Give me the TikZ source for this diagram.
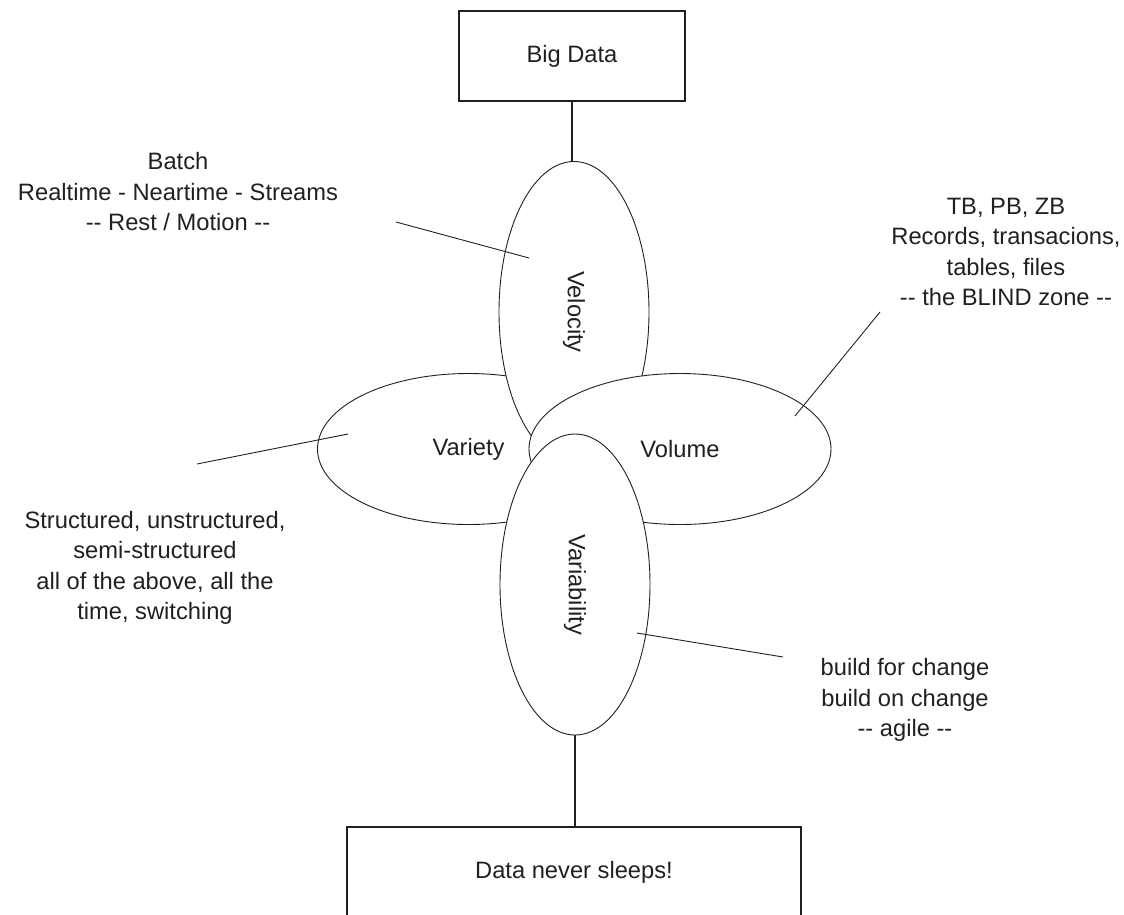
\documentclass[tikz,border=0pt]{standalone}
\usepackage{fontspec}
% plain family: no TeX ligatures, so "--" stays two hyphens
\newfontfamily\notefont{Liberation Sans}
\usetikzlibrary{shapes.geometric}
\definecolor{ink}{HTML}{231F20}
\begin{document}
\begin{tikzpicture}[x=1pt,y=-1pt,
  every node/.style={font=\notefont\fontsize{23.7}{30.5}\selectfont, text=ink},
  labelbox/.style={draw=ink, line width=2pt, minimum height=90pt, inner sep=0pt},
  petal/.style={ellipse, draw=ink, fill=white, line width=0.9pt, inner sep=0pt},
  tallpetal/.style={petal, minimum width=150pt, minimum height=301pt},
  widepetal/.style={petal, minimum width=302pt, minimum height=151pt},
  stem/.style={draw=ink, line width=2pt},
  pointer/.style={draw=ink, line width=0.9pt},
  note/.style={align=center, inner sep=0pt}
]
\useasboundingbox (0,0) rectangle (1124,914);
\clip (0,0) rectangle (1124,914);

% top and bottom boxes
\node[labelbox, minimum width=226pt] (bigdata) at (572,56) {Big Data};
\node[labelbox, minimum width=454pt] (sleeps) at (574,872) {Data never sleeps!};

% the four V petals, stacked in drawing order
\node[widepetal] (variety) at (468.5,449) {Variety};
\node[tallpetal] (velocity) at (574,312) {\rotatebox{-90}{Velocity}};
\node[widepetal] (volume) at (680,449) {Volume};
\node[tallpetal] (variability) at (575,584.5) {\rotatebox{-90}{Variability}};

% stems
\draw[stem] (bigdata.south) -- (bigdata.south |- velocity.north);
\draw[stem] (variability.south) -- (variability.south |- sleeps.north);

% notes
\node[note] (velnote) at (178,192) {Batch\\Realtime - Neartime - Streams\\-- Rest / Motion --};
\node[note] (volnote) at (1006,252) {TB, PB, ZB\\Records, transacions,\\tables, files\\-- the BLIND zone --};
\node[note] (varnote) at (155,568) {Structured, unstructured,\\semi-structured\\all of the above, all the\\time, switching};
\node[note] (vbnote) at (905,700) {build for change\\build on change\\-- agile --};

% pointers from notes into petals
\coordinate (velA) at (396,222);
\coordinate (velB) at (529,258);
\coordinate (varA) at (197,464);
\coordinate (varB) at (348,434);
\coordinate (volA) at (880,312);
\coordinate (volB) at (795,416);
\coordinate (vbA) at (637,633);
\coordinate (vbB) at (783,657);
\draw[pointer] (velA) -- (velB);
\draw[pointer] (varA) -- (varB);
\draw[pointer] (volA) -- (volB);
\draw[pointer] (vbA) -- (vbB);
\end{tikzpicture}
\end{document}
